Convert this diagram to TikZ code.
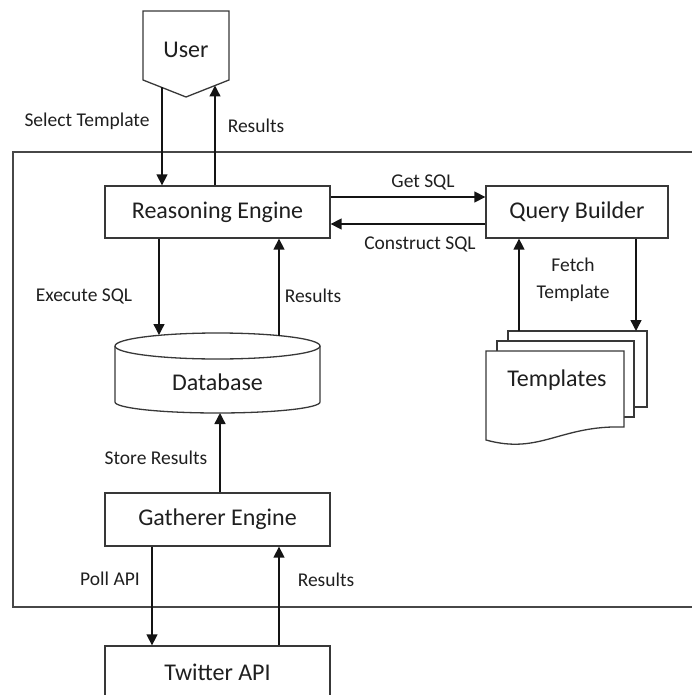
\documentclass[tikz,border=0pt]{standalone}
\usepackage{fontspec}
\setmainfont{Carlito}
\usetikzlibrary{arrows.meta}
\begin{document}
\begin{tikzpicture}[x=1pt,y=-1pt,
  outline/.style={draw=black!78, line width=1.3pt},
  box/.style={outline, fill=white, rectangle, inner sep=0pt, text=black!88,
    font=\fontsize{24}{28}\selectfont},
  maintext/.style={inner sep=0pt, text=black!88, font=\fontsize{24}{28}\selectfont},
  lbl/.style={inner sep=0pt, text=black!88, font=\fontsize{19.5}{27}\selectfont},
  arr/.style={draw=black!92, line width=1.4pt, -{Triangle[length=11pt,width=11pt]}},
  frameline/.style={draw=black!72, line width=1.2pt}]
\useasboundingbox (0,0) rectangle (691,695);

% system boundary (open to the right)
\draw[frameline] (695,152) -- (13,152) -- (13,607) -- (695,607);

% user (off-page connector shape)
\draw[outline, fill=white] (143,80) -- (143,11) -- (229,11) -- (229,80) -- (186,97) -- cycle;
\node[maintext] (user) at (186,50) {User};
\coordinate (userL) at (162,87.5);
\coordinate (userR) at (215,85.5);

% main components
\node[box, minimum width=225pt, minimum height=52pt] (re) at (217.5,212) {Reasoning Engine};
\node[box, minimum width=182pt, minimum height=52pt] (qb) at (577,212) {Query Builder};
\node[box, minimum width=225pt, minimum height=53pt] (ge) at (217.5,519.5) {Gatherer Engine};
\node[box, minimum width=225pt, minimum height=52pt] (ta) at (217.5,672) {Twitter API};

% database cylinder
\draw[outline, fill=white] (115,346) -- (115,402)
  arc[start angle=180, end angle=360, x radius=102.5pt, y radius=11pt]
  -- (320,346)
  arc[start angle=0, end angle=180, x radius=102.5pt, y radius=13pt] -- cycle;
\draw[outline] (115,346) arc[start angle=180, end angle=360, x radius=102.5pt, y radius=13pt];
\node[maintext] (db) at (217.5,382) {Database};
\coordinate (dbA) at (159,335);
\coordinate (dbB) at (279,335.6);
\coordinate (dbC) at (220,413);

% templates (stack of documents)
\draw[outline, fill=white] (508,331) rectangle (647,407);
\draw[outline, fill=white] (497,341) rectangle (634,417);
\draw[outline, fill=white] (486,351) -- (624,351) -- (624,427)
  .. controls (560,425) and (540,455) .. (486,440) -- cycle;
\node[maintext] (tpl) at (557,380) {Templates};
\coordinate (tplA) at (519,331);
\coordinate (tplB) at (636,331);

% connectors
\draw[arr] (userL) -- (userL |- re.north);
\draw[arr] (userR |- re.north) -- (userR);
\draw[arr] ([yshift=15pt]re.east) -- ([yshift=15pt]qb.west);
\draw[arr] ([yshift=-12pt]qb.west) -- ([yshift=-12pt]re.east);
\draw[arr] (dbA |- re.south) -- (dbA);
\draw[arr] (dbB) -- (dbB |- re.south);
\draw[arr] (tplA) -- (tplA |- qb.south);
\draw[arr] (tplB |- qb.south) -- (tplB);
\draw[arr] (dbC |- ge.north) -- (dbC);
\draw[arr] ([xshift=-65.5pt]ge.south) -- ([xshift=-65.5pt]ta.north);
\draw[arr] ([xshift=61.5pt]ta.north) -- ([xshift=61.5pt]ge.south);

% connector labels
\node[lbl] (l1) at (87,121) {Select Template};
\node[lbl] (l2) at (256,126) {Results};
\node[lbl] (l3) at (423,182) {Get SQL};
\node[lbl] (l4) at (420,244) {Construct SQL};
\node[lbl] (l5) at (84,296) {Execute SQL};
\node[lbl] (l6) at (313,296) {Results};
\node[lbl, align=center] (l7) at (573,280) {Fetch\\Template};
\node[lbl] (l8) at (156,458) {Store Results};
\node[lbl] (l9) at (110,579) {Poll API};
\node[lbl] (l10) at (326,580) {Results};
\end{tikzpicture}
\end{document}
